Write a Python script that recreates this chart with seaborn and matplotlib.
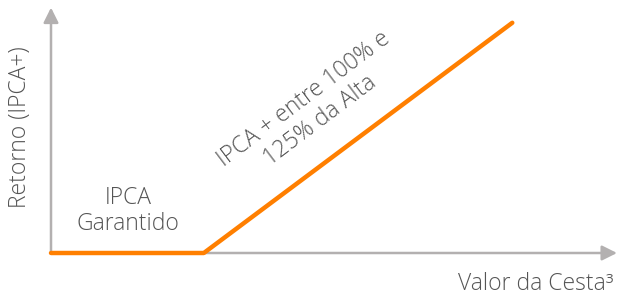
import matplotlib
matplotlib.use("Agg")
import matplotlib.pyplot as plt
import seaborn as sns
import pandas as pd

# payoff curve, in chart units
valor_cesta = [0, 2.7, 8.15]
retorno = [0, 0, 9.1]

rotulo_y = "Retorno (IPCA+)"
rotulo_x = "Valor da Cesta³"
texto_garantido = "IPCA\nGarantido"
texto_alta = "IPCA + entre 100% e\n125% da Alta"

laranja = "#FF7F00"
cinza_eixo = "#B3B0B0"
cinza_texto = "#555555"

sns.set_style("white")
plt.rcParams["font.family"] = ["Open Sans", "DejaVu Sans"]

df = pd.DataFrame({"x": valor_cesta, "y": retorno})

fig = plt.figure(figsize=(6.17, 2.97), dpi=100)
ax = fig.add_axes([51 / 617, 44 / 297, 566 / 617, 253 / 297])
ax.set_xlim(0, 10)
ax.set_ylim(0, 10)
for s in ax.spines.values():
    s.set_visible(False)
ax.set_xticks([])
ax.set_yticks([])

# axis arrows
seta = dict(arrowstyle="-|>,head_length=0.9,head_width=0.45",
            color=cinza_eixo, lw=1.8, shrinkA=0, shrinkB=0)
ax.annotate("", xy=(10, 0), xytext=(0, 0), annotation_clip=False,
            arrowprops=seta, zorder=1)
ax.annotate("", xy=(0, 9.7), xytext=(0, 0), annotation_clip=False,
            arrowprops=seta, zorder=1)

sns.lineplot(data=df, x="x", y="y", sort=False, color=laranja, lw=3.2,
             ax=ax, clip_on=False, solid_capstyle="round",
             solid_joinstyle="round", zorder=5)
ax.set_xlabel("")
ax.set_ylabel("")

fs = 16.5
fig.text(20 / 617, 1 - 127 / 297, rotulo_y, rotation=90, ha="center", va="center",
         fontsize=fs, color=cinza_texto, fontweight="light")
fig.text(613 / 617, 1 - 284 / 297, rotulo_x, ha="right", va="center",
         fontsize=fs, color=cinza_texto, fontweight="light")
fig.text(128 / 617, 1 - 211 / 297, texto_garantido, ha="center", va="center",
         fontsize=fs, color=cinza_texto, fontweight="light", linespacing=1.15)
fig.text(312 / 617, 1 - 110 / 297, texto_alta, ha="center", va="center",
         rotation=37, rotation_mode="anchor", fontsize=fs, color=cinza_texto,
         fontweight="light", linespacing=1.1)

fig.savefig("out.png", dpi=100)
